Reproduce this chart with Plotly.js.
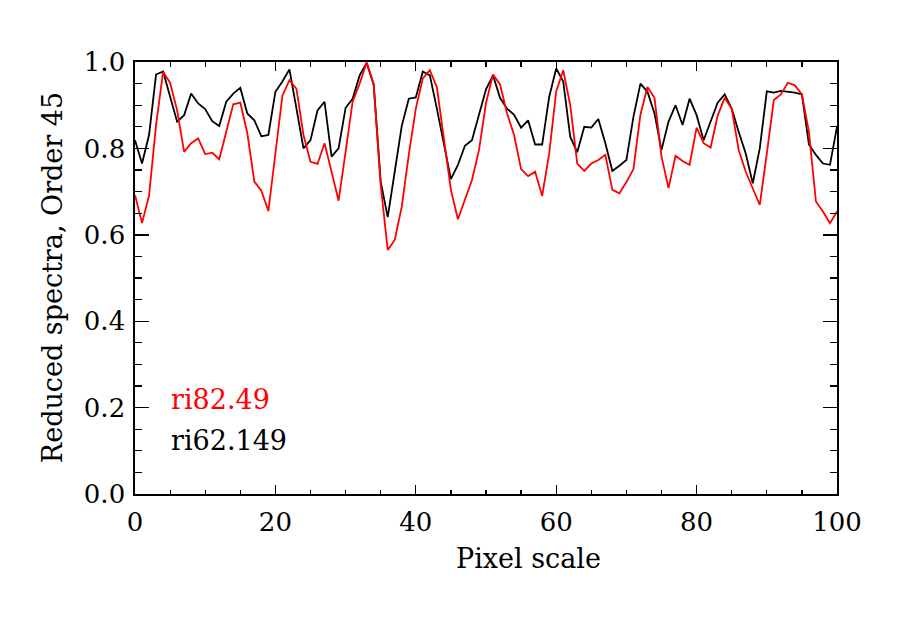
<!DOCTYPE html>
<html>
<head>
<meta charset="utf-8">
<script src="https://cdn.plot.ly/plotly-3.0.1.min.js"></script>
<style>html,body{margin:0;padding:0;background:#fff;}#chart{width:900px;height:631px;}</style>
</head>
<body>
<div id="chart"></div>
<script>
// Pixel positions 0..100
const pixel = Array.from({length: 101}, (_, i) => i);

// ri82.49 (red)
const ri82_49 = [
  0.692, 0.627, 0.691, 0.854, 0.977, 0.952, 0.888, 0.792, 0.812, 0.823,
  0.787, 0.790, 0.775, 0.838, 0.902, 0.906, 0.835, 0.723, 0.702, 0.655,
  0.785, 0.922, 0.958, 0.938, 0.831, 0.769, 0.764, 0.812, 0.746, 0.679,
  0.792, 0.908, 0.950, 0.999, 0.948, 0.715, 0.565, 0.588, 0.665, 0.785,
  0.892, 0.962, 0.981, 0.942, 0.823, 0.704, 0.636, 0.681, 0.727, 0.796,
  0.905, 0.971, 0.948, 0.881, 0.831, 0.752, 0.736, 0.746, 0.690, 0.788,
  0.932, 0.981, 0.900, 0.765, 0.748, 0.765, 0.773, 0.785, 0.704, 0.696,
  0.722, 0.752, 0.878, 0.942, 0.917, 0.781, 0.708, 0.783, 0.771, 0.762,
  0.848, 0.812, 0.802, 0.876, 0.917, 0.892, 0.796, 0.746, 0.708, 0.669,
  0.788, 0.912, 0.925, 0.952, 0.946, 0.925, 0.838, 0.677, 0.654, 0.627,
  0.654
];

// ri62.149 (black)
const ri62_149 = [
  0.819, 0.765, 0.831, 0.971, 0.978, 0.923, 0.862, 0.877, 0.927, 0.904,
  0.891, 0.863, 0.852, 0.908, 0.927, 0.940, 0.881, 0.865, 0.828, 0.831,
  0.931, 0.955, 0.983, 0.892, 0.800, 0.819, 0.888, 0.908, 0.781, 0.800,
  0.894, 0.915, 0.969, 0.998, 0.948, 0.723, 0.641, 0.746, 0.852, 0.915,
  0.918, 0.978, 0.969, 0.892, 0.812, 0.729, 0.762, 0.806, 0.819, 0.877,
  0.937, 0.969, 0.917, 0.892, 0.878, 0.848, 0.865, 0.809, 0.809, 0.919,
  0.985, 0.955, 0.827, 0.791, 0.850, 0.848, 0.868, 0.812, 0.748, 0.760,
  0.773, 0.873, 0.950, 0.931, 0.881, 0.796, 0.862, 0.900, 0.854, 0.915,
  0.877, 0.819, 0.865, 0.906, 0.925, 0.892, 0.838, 0.788, 0.719, 0.800,
  0.932, 0.929, 0.933, 0.931, 0.929, 0.925, 0.809, 0.785, 0.765, 0.762,
  0.850
];

const seriesNames = ["ri82.49", "ri62.149"];
const xTitle = "Pixel scale";
const yTitle = "Reduced spectra, Order 45";

const FONT = "DejaVu Serif";
const FS = 27;
const TFS = 26;

const traces = [
  {x: pixel, y: ri62_149, mode: "lines", name: seriesNames[1],
   line: {color: "#000000", width: 1.8}},
  {x: pixel, y: ri82_49, mode: "lines", name: seriesNames[0],
   line: {color: "#ff0000", width: 1.8}}
];

const axisCommon = {
  showgrid: false, zeroline: false, showline: true, linecolor: "#000",
  linewidth: 1.6, mirror: "ticks", ticks: "inside", tickcolor: "#000",
  tickwidth: 1.4, tickfont: {family: FONT, size: TFS, color: "#000"}
};

const layout = {
  width: 900, height: 631,
  margin: {l: 135, r: 63, t: 62, b: 137},
  paper_bgcolor: "#fff", plot_bgcolor: "#fff",
  showlegend: false,
  font: {family: FONT, size: FS, color: "#000"},
  xaxis: Object.assign({}, axisCommon, {
    range: [0, 100], dtick: 20, tick0: 0, ticklen: 9,
    minor: {dtick: 5, ticklen: 4.5, ticks: "inside", tickcolor: "#000", tickwidth: 1.2, showgrid: false},
    ticklabelstandoff: 4
  }),
  yaxis: Object.assign({}, axisCommon, {
    range: [0, 1], dtick: 0.2, tick0: 0, ticklen: 14, tickformat: ".1f",
    minor: {dtick: 0.05, ticklen: 7, ticks: "inside", tickcolor: "#000", tickwidth: 1.2, showgrid: false},
    ticklabelstandoff: 3
  }),
  annotations: [
    {text: xTitle, xref: "paper", yref: "paper", x: 0.561, y: -0.150,
     xanchor: "center", yanchor: "middle", showarrow: false,
     font: {family: FONT, size: FS, color: "#000"}},
    {text: yTitle, xref: "paper", yref: "paper", x: -0.118, y: 0.5,
     xanchor: "center", yanchor: "middle", showarrow: false, textangle: -90,
     font: {family: FONT, size: FS, color: "#000"}},
    {text: seriesNames[0], xref: "paper", yref: "y", x: 0.048, y: 0.219,
     xanchor: "left", yanchor: "middle", showarrow: false,
     font: {family: FONT, size: FS, color: "#ff0000"}},
    {text: seriesNames[1], xref: "paper", yref: "y", x: 0.048, y: 0.125,
     xanchor: "left", yanchor: "middle", showarrow: false,
     font: {family: FONT, size: FS, color: "#000"}}
  ]
};

Plotly.newPlot("chart", traces, layout, {displayModeBar: false, staticPlot: true});
</script>
</body>
</html>
